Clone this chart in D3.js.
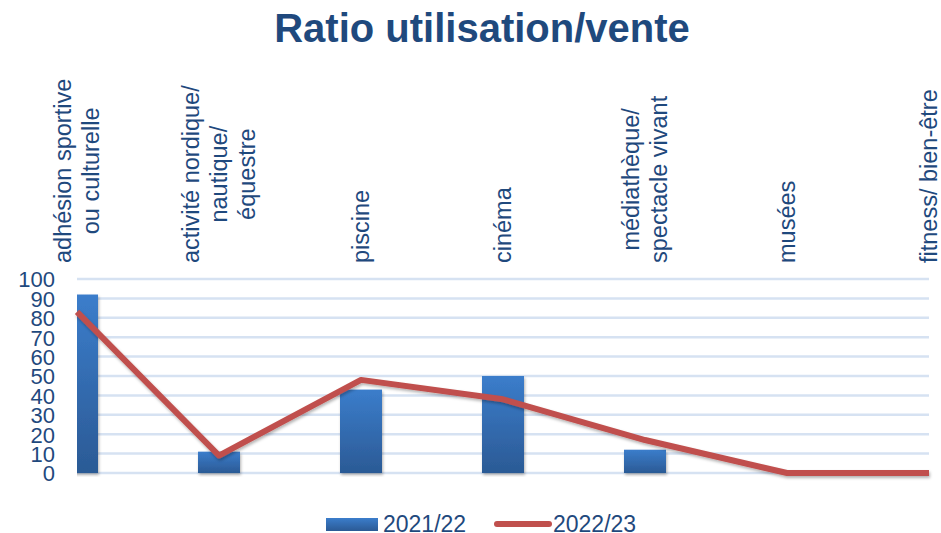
<!DOCTYPE html>
<html>
<head>
<meta charset="utf-8">
<script src="https://cdn.jsdelivr.net/npm/d3@7"></script>
<style>
  body { margin: 0; background: #fff; }
  svg { font-family: 'Liberation Sans', Arial, sans-serif; }
</style>
</head>
<body>
<script>
const categories = [
  ['adhésion sportive', 'ou culturelle'],
  ['activité nordique/', 'nautique/', 'équestre'],
  ['piscine'],
  ['cinéma'],
  ['médiathèque/', 'spectacle vivant'],
  ['musées'],
  ['fitness/ bien-être']
]
const values2122 = [92, 11, 43, 50, 12, 0, 0]
const values2223 = [83, 9, 48, 38, 17, 0, 0]
const yTicks = [0, 10, 20, 30, 40, 50, 60, 70, 80, 90, 100]
const seriesNames = ['2021/22', '2022/23']

const width = 941
const height = 533
const textColor = '#1F497D'
const plot = { left: 77, right: 929, top: 279, bottom: 473 }

const svg = d3.select('body')
  .append('svg')
  .attr('width', width)
  .attr('height', height)

const defs = svg.append('defs')
const grad = defs.append('linearGradient')
  .attr('id', 'barGrad')
  .attr('x1', 0).attr('y1', 0).attr('x2', 0).attr('y2', 1)
grad.append('stop').attr('offset', '0%').attr('stop-color', '#3B7DCB')
grad.append('stop').attr('offset', '100%').attr('stop-color', '#2B5A95')

const shadow = defs.append('filter')
  .attr('id', 'shadow')
  .attr('x', '-20%').attr('y', '-20%').attr('width', '140%').attr('height', '140%')
shadow.append('feDropShadow')
  .attr('dx', 1).attr('dy', 2).attr('stdDeviation', 1.5)
  .attr('flood-color', '#000').attr('flood-opacity', 0.3)

defs.append('clipPath').attr('id', 'plotClip')
  .append('rect')
  .attr('x', plot.left).attr('y', 0)
  .attr('width', plot.right - plot.left + 10).attr('height', plot.bottom + 4)

const x = d3.scalePoint()
  .domain(d3.range(categories.length))
  .range([plot.left, plot.right])

const y = d3.scaleLinear()
  .domain([0, 100])
  .range([plot.bottom, plot.top])

// title
svg.append('text')
  .attr('x', 482)
  .attr('y', 42)
  .attr('text-anchor', 'middle')
  .attr('font-size', '40px')
  .attr('font-weight', 'bold')
  .attr('fill', textColor)
  .text('Ratio utilisation/vente')

// gridlines
svg.append('g')
  .selectAll('line')
  .data(yTicks)
  .enter()
  .append('line')
  .attr('x1', plot.left)
  .attr('x2', plot.right)
  .attr('y1', d => y(d))
  .attr('y2', d => y(d))
  .attr('stroke', '#D6E2F2')
  .attr('stroke-width', 2.5)

// y axis labels
const yAxis = svg.append('g')
  .attr('transform', `translate(${plot.left - 22},0)`)
  .call(d3.axisLeft(y).tickValues(yTicks).tickSize(0).tickPadding(0))
yAxis.select('.domain').remove()
yAxis.selectAll('text')
  .attr('font-size', '22px')
  .attr('font-family', "'Liberation Sans', Arial, sans-serif")
  .attr('fill', textColor)
  .attr('dy', '0.36em')

// bars
const barWidth = 42
svg.append('g')
  .attr('clip-path', 'url(#plotClip)')
  .selectAll('rect')
  .data(values2122)
  .enter()
  .append('rect')
  .attr('x', (d, i) => x(i) - barWidth / 2)
  .attr('y', d => y(d))
  .attr('width', barWidth)
  .attr('height', d => y(0) - y(d))
  .attr('fill', 'url(#barGrad)')
  .attr('filter', 'url(#shadow)')

// line
const line = d3.line()
  .x((d, i) => x(i))
  .y(d => y(d))

svg.append('path')
  .datum(values2223)
  .attr('d', line)
  .attr('fill', 'none')
  .attr('stroke', '#C0504D')
  .attr('stroke-width', 6)
  .attr('stroke-linejoin', 'round')
  .attr('filter', 'url(#shadow)')

// category labels, rotated
const labelBottom = 263
const lineGap = 28
categories.forEach(function (lines, i) {
  const g = svg.append('g')
    .attr('transform', `translate(${x(i)},${labelBottom}) rotate(-90)`)
  const texts = g.selectAll('text')
    .data(lines)
    .enter()
    .append('text')
    .attr('font-size', '23.5px')
    .attr('fill', textColor)
    .attr('text-anchor', 'middle')
    .attr('y', (d, j) => (j - (lines.length - 1) / 2) * lineGap + 8)
    .text(d => d)
  let maxW = 0
  texts.each(function () {
    maxW = Math.max(maxW, this.getComputedTextLength())
  })
  texts.attr('x', maxW / 2)
})

// legend
const legend = svg.append('g')
legend.append('rect')
  .attr('x', 326).attr('y', 518)
  .attr('width', 52).attr('height', 13)
  .attr('fill', 'url(#barGrad)')
legend.append('text')
  .attr('x', 383).attr('y', 532)
  .attr('font-size', '23px')
  .attr('fill', textColor)
  .text(seriesNames[0])
legend.append('line')
  .attr('x1', 497).attr('x2', 549)
  .attr('y1', 524).attr('y2', 524)
  .attr('stroke', '#C0504D')
  .attr('stroke-width', 6)
  .attr('stroke-linecap', 'round')
legend.append('text')
  .attr('x', 553).attr('y', 532)
  .attr('font-size', '23px')
  .attr('fill', textColor)
  .text(seriesNames[1])
</script>
</body>
</html>
